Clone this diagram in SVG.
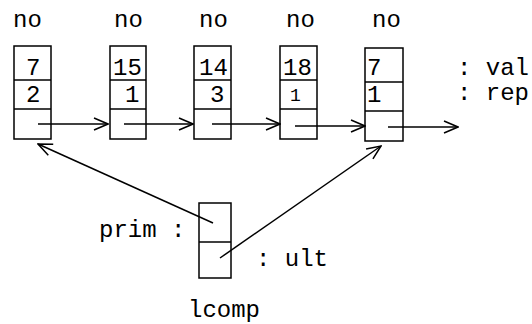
<svg xmlns="http://www.w3.org/2000/svg" width="532" height="324" viewBox="0 0 532 324">
<style>
.t{font-family:"Liberation Mono","Courier New",monospace;font-size:24px;fill:#000}
.s{font-size:18px}
.b{fill:#fff;stroke:#000;stroke-width:1.5}
.c{stroke:#000;stroke-width:1.5;fill:none}
</style>
<defs>
<marker id="ah" viewBox="0 0 16 14" refX="15" refY="7" markerWidth="16" markerHeight="14" markerUnits="userSpaceOnUse" orient="auto">
<path d="M1,1 L15,7 L1,13" fill="none" stroke="#000" stroke-width="1.5"/>
</marker>
</defs>
<rect width="532" height="324" fill="#fff"/>
<g id="node1">
<rect class="b" x="14" y="46" width="37" height="93"/>
<line class="c" x1="14" y1="80" x2="51" y2="80"/>
<line class="c" x1="14" y1="109" x2="51" y2="109"/>
<text class="t" x="13" y="27">no</text>
<text class="t" x="26" y="75">7</text>
<text class="t" x="26" y="102">2</text>
</g>
<g id="node2">
<rect class="b" x="110" y="46" width="36" height="93"/>
<line class="c" x1="110" y1="80" x2="146" y2="80"/>
<line class="c" x1="110" y1="109" x2="146" y2="109"/>
<text class="t" x="114" y="27">no</text>
<text class="t" x="113" y="75">15</text>
<text class="t" x="125" y="102">1</text>
</g>
<g id="node3">
<rect class="b" x="194" y="46" width="37" height="93"/>
<line class="c" x1="194" y1="80" x2="231" y2="80"/>
<line class="c" x1="194" y1="109" x2="231" y2="109"/>
<text class="t" x="199" y="27">no</text>
<text class="t" x="199" y="75">14</text>
<text class="t" x="210" y="102">3</text>
</g>
<g id="node4">
<rect class="b" x="280" y="46" width="37" height="93"/>
<line class="c" x1="280" y1="80" x2="317" y2="80"/>
<line class="c" x1="280" y1="109" x2="317" y2="109"/>
<text class="t" x="286" y="27">no</text>
<text class="t" x="283" y="75">18</text>
<text class="t s" x="290" y="101">1</text>
</g>
<g id="node5">
<rect class="b" x="365" y="48" width="38" height="93"/>
<line class="c" x1="365" y1="82" x2="403" y2="82"/>
<line class="c" x1="365" y1="111" x2="403" y2="111"/>
<text class="t" x="372" y="27">no</text>
<text class="t" x="367" y="75">7</text>
<text class="t" x="367" y="102">1</text>
</g>
<g id="labels">
<text class="t" x="457" y="75">: val</text>
<text class="t" x="457" y="100">: rep</text>
</g>
<g id="lcomp">
<rect class="b" x="199" y="203" width="32" height="75"/>
<line class="c" x1="199" y1="242" x2="231" y2="242"/>
<text class="t" x="99" y="237">prim :</text>
<text class="t" x="256" y="266">: ult</text>
<text class="t" x="188" y="317">lcomp</text>
</g>
<g id="connectors">
<line class="c" x1="38" y1="124" x2="108" y2="124" marker-end="url(#ah)"/>
<line class="c" x1="124" y1="124" x2="193" y2="124" marker-end="url(#ah)"/>
<line class="c" x1="212" y1="124" x2="280" y2="124" marker-end="url(#ah)"/>
<line class="c" x1="295" y1="126" x2="365" y2="126" marker-end="url(#ah)"/>
<line class="c" x1="388" y1="127" x2="458" y2="127" marker-end="url(#ah)"/>
<line class="c" x1="213" y1="223" x2="38" y2="144" marker-end="url(#ah)"/>
<line class="c" x1="220" y1="258" x2="381" y2="146" marker-end="url(#ah)"/>
</g>
</svg>
